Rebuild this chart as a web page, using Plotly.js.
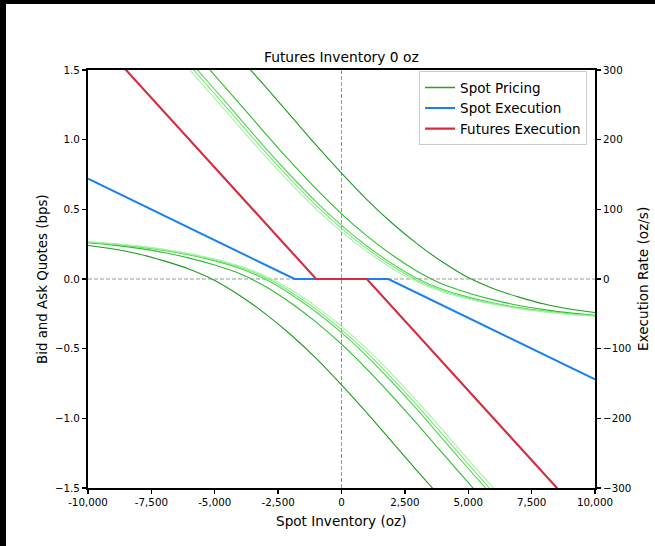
<!DOCTYPE html>
<html>
<head>
<meta charset="utf-8">
<script src="https://cdn.plot.ly/plotly-3.0.1.min.js"></script>
<style>
  html, body { margin: 0; padding: 0; background: #000; width: 655px; height: 546px; overflow: hidden; }
  #chart { position: absolute; left: 6px; top: 4px; width: 649px; height: 542px; background: #fff; }
</style>
</head>
<body>
<div id="chart"></div>
<script>
// Spot inventory grid (oz)
const inventory = [-10000,-9000,-8000,-7000,-6000,-5000,-4000,-3000,-2000,-1000,0,1000,2000,3000,4000,5000,6000,7000,8000,9000,10000];

// Ask quotes (bps), darkest (outermost) to lightest (innermost)
const ask1 = [2.84,2.63,2.42,2.21,2.00,1.79,1.585,1.38,1.17,0.96,0.76,0.57,0.40,0.25,0.12,0.01,-0.07,-0.13,-0.18,-0.215,-0.24];
const ask2 = [2.50,2.29,2.08,1.87,1.667,1.462,1.254,1.044,0.84,0.646,0.468,0.31,0.172,0.054,-0.038,-0.10,-0.15,-0.19,-0.22,-0.243,-0.26];
const ask3 = [2.40,2.19,1.98,1.77,1.565,1.36,1.15,0.94,0.741,0.553,0.385,0.237,0.109,0.002,-0.076,-0.13,-0.172,-0.205,-0.23,-0.25,-0.263];
const ask4 = [2.37,2.16,1.95,1.739,1.534,1.328,1.118,0.91,0.713,0.528,0.363,0.218,0.093,-0.01,-0.085,-0.138,-0.178,-0.21,-0.234,-0.252,-0.265];
const ask5 = [2.336,2.126,1.916,1.708,1.503,1.296,1.086,0.88,0.684,0.502,0.34,0.198,0.076,-0.022,-0.093,-0.144,-0.182,-0.213,-0.236,-0.254,-0.267];

// Bid quotes (bps)
const bid1 = [0.24,0.215,0.18,0.13,0.07,-0.01,-0.12,-0.25,-0.40,-0.57,-0.76,-0.96,-1.17,-1.38,-1.585,-1.79,-2.00,-2.21,-2.42,-2.63,-2.84];
const bid2 = [0.26,0.243,0.22,0.19,0.15,0.10,0.038,-0.054,-0.172,-0.31,-0.468,-0.646,-0.84,-1.044,-1.254,-1.462,-1.667,-1.87,-2.08,-2.29,-2.50];
const bid3 = [0.263,0.25,0.23,0.205,0.172,0.13,0.076,-0.002,-0.109,-0.237,-0.385,-0.553,-0.741,-0.94,-1.15,-1.36,-1.565,-1.77,-1.98,-2.19,-2.40];
const bid4 = [0.265,0.252,0.234,0.21,0.178,0.138,0.085,0.01,-0.093,-0.218,-0.363,-0.528,-0.713,-0.91,-1.118,-1.328,-1.534,-1.739,-1.95,-2.16,-2.37];
const bid5 = [0.267,0.254,0.236,0.213,0.182,0.144,0.093,0.022,-0.076,-0.198,-0.34,-0.502,-0.684,-0.88,-1.086,-1.296,-1.503,-1.708,-1.916,-2.126,-2.336];

// Execution rates (oz/s), breakpoints
const spotExecInv  = [-10000, -1850, 1850, 10000];
const spotExecRate = [144, 0, 0, -144];
const futExecInv   = [-10000, -1000, 1000, 10000];
const futExecRate  = [360, 0, 0, -360];

const greens = ['#1e9c1e', '#2fbd2f', '#4fd64f', '#7ce87c', '#a4f5a4'];

const xTickVals = [-10000,-7500,-5000,-2500,0,2500,5000,7500,10000];
const xTickText = ['-10,000','-7,500','-5,000','-2,500','0','2,500','5,000','7,500','10,000'];
const yTickVals = [-1.5,-1.0,-0.5,0,0.5,1.0,1.5];
const yTickText = ['\u22121.5','\u22121.0','\u22120.5','0.0','0.5','1.0','1.5'];
const y2TickVals = [-300,-200,-100,0,100,200,300];
const y2TickText = ['\u2212300','\u2212200','\u2212100','0','100','200','300'];

const asks = [ask1, ask2, ask3, ask4, ask5];
const bids = [bid1, bid2, bid3, bid4, bid5];

const traces = [];
// legend proxy for the spot pricing family (no drawn marks)
traces.push({
  x: [null], y: [null], type: 'scatter', mode: 'lines',
  line: {color: '#2ca02c', width: 1.5}, name: 'Spot Pricing', showlegend: true, hoverinfo: 'skip'
});
asks.forEach((a, i) => {
  traces.push({
    x: inventory, y: a, type: 'scatter', mode: 'lines',
    line: {color: greens[i], width: 1.1, shape: 'spline'},
    name: 'Spot Pricing', showlegend: false, hoverinfo: 'skip'
  });
});
bids.forEach((b, i) => {
  traces.push({
    x: inventory, y: b, type: 'scatter', mode: 'lines',
    line: {color: greens[i], width: 1.1, shape: 'spline'},
    name: 'Spot Pricing', showlegend: false, hoverinfo: 'skip'
  });
});
traces.push({
  x: spotExecInv, y: spotExecRate, yaxis: 'y2', type: 'scatter', mode: 'lines',
  line: {color: '#1a7ff0', width: 2}, name: 'Spot Execution'
});
traces.push({
  x: futExecInv, y: futExecRate, yaxis: 'y2', type: 'scatter', mode: 'lines',
  line: {color: '#d62c41', width: 2.1}, name: 'Futures Execution'
});

const font = {family: 'DejaVu Sans, sans-serif', color: '#000'};

const layout = {
  width: 649, height: 542,
  margin: {l: 82, r: 60, t: 66, b: 58, pad: 0},
  paper_bgcolor: '#fff', plot_bgcolor: '#fff',
  font: Object.assign({size: 10}, font),
  showlegend: true,
  xaxis: {
    range: [-10000, 10000], tickvals: xTickVals, ticktext: xTickText,
    showgrid: false, zeroline: false, showline: true, linecolor: '#000', linewidth: 2,
    mirror: true, ticks: 'outside', ticklen: 4, tickwidth: 1.3, tickcolor: '#000',
    tickfont: Object.assign({size: 10.3}, font), automargin: false
  },
  yaxis: {
    range: [-1.5, 1.5], tickvals: yTickVals, ticktext: yTickText,
    showgrid: false, zeroline: false, showline: true, linecolor: '#000', linewidth: 2,
    ticks: 'outside', ticklen: 4, tickwidth: 1.3, tickcolor: '#000',
    tickfont: Object.assign({size: 10.3}, font), automargin: false
  },
  yaxis2: {
    range: [-300, 300], tickvals: y2TickVals, ticktext: y2TickText,
    overlaying: 'y', side: 'right', anchor: 'x',
    showgrid: false, zeroline: false, showline: true, linecolor: '#000', linewidth: 2,
    ticks: 'outside', ticklen: 4, tickwidth: 1.3, tickcolor: '#000',
    tickfont: Object.assign({size: 10.3}, font), automargin: false
  },
  legend: {
    x: 0.653, y: 0.997, xanchor: 'left', yanchor: 'top',
    bgcolor: 'rgba(255,255,255,0.9)', bordercolor: '#cccccc', borderwidth: 1,
    font: Object.assign({size: 13.5}, font), itemwidth: 30, tracegroupgap: 0
  },
  shapes: [
    {type: 'line', xref: 'x', yref: 'paper', x0: 0, x1: 0, y0: 0, y1: 1,
     line: {color: '#999999', width: 1, dash: '4px,2px'}, layer: 'below'},
    {type: 'line', xref: 'paper', yref: 'y', x0: 0, x1: 1, y0: 0, y1: 0,
     line: {color: '#999999', width: 1, dash: '4px,2px'}, layer: 'below'}
  ],
  annotations: [
    {text: 'Futures Inventory 0 oz', xref: 'paper', yref: 'paper', x: 0.5, y: 1,
     xanchor: 'center', yanchor: 'bottom', yshift: 3, showarrow: false,
     font: Object.assign({size: 13.8}, font)},
    {text: 'Spot Inventory (oz)', xref: 'paper', yref: 'paper', x: 0.5, y: 0,
     xanchor: 'center', yanchor: 'middle', yshift: -33, showarrow: false,
     font: Object.assign({size: 13.6}, font)},
    {text: 'Bid and Ask Quotes (bps)', xref: 'paper', yref: 'paper', x: 0, y: 0.5,
     xanchor: 'center', yanchor: 'middle', xshift: -46, textangle: -90, showarrow: false,
     font: Object.assign({size: 13.4}, font)},
    {text: 'Execution Rate (oz/s)', xref: 'paper', yref: 'paper', x: 1, y: 0.5,
     xanchor: 'center', yanchor: 'middle', xshift: 48, textangle: -90, showarrow: false,
     font: Object.assign({size: 13.6}, font)}
  ]
};

Plotly.newPlot('chart', traces, layout, {staticPlot: true, displayModeBar: false});
</script>
</body>
</html>
